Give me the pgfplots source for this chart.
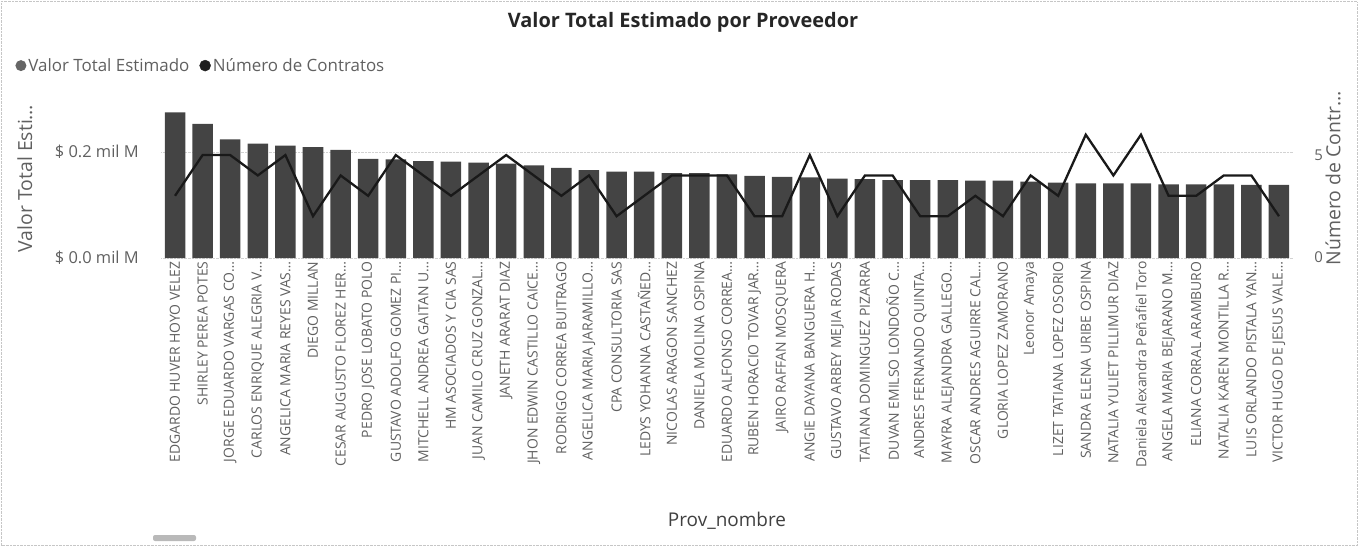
\documentclass[border=0pt]{standalone}
\usepackage{pgfplots}
\pgfplotsset{compat=1.18}
\usepackage{fontspec}
\setmainfont{Open Sans}
\definecolor{barc}{RGB}{68,68,68}
\definecolor{txt}{RGB}{96,96,96}
\pgfplotstableread{
x v n
0 0.275 3
1 0.253 5
2 0.224 5
3 0.216 4
4 0.212 5
5 0.209 2
6 0.204 4
7 0.187 3
8 0.186 5
9 0.183 4
10 0.182 3
11 0.180 4
12 0.178 5
13 0.175 4
14 0.170 3
15 0.166 4
16 0.163 2
17 0.163 3
18 0.160 4
19 0.160 4
20 0.158 4
21 0.155 2
22 0.153 2
23 0.152 5
24 0.150 2
25 0.149 4
26 0.147 4
27 0.147 2
28 0.147 2
29 0.146 3
30 0.146 2
31 0.144 4
32 0.142 3
33 0.141 6
34 0.141 4
35 0.141 6
36 0.139 3
37 0.139 3
38 0.139 4
39 0.138 4
40 0.138 2
}\datatable
\begin{document}
\begin{tikzpicture}[x=1bp,y=1bp]
\path[use as bounding box] (0,0) rectangle (1360,-547);
\draw[gray!45, densely dotted] (1.5,-1.5) rectangle (1357,-545.5);
\node[font=\fontsize{20}{24}\selectfont\bfseries, text=black!85] at (683,-22) {Valor Total Estimado por Proveedor};
\fill[gray!55, rounded corners=2bp] (153,-535) rectangle (196,-541);
\begin{axis}[
  at={(161.2bp,-258bp)}, anchor=south west,
  scale only axis, width=1131.6bp, height=159bp,
  xmin=-0.5, xmax=40.5, ymin=0, ymax=0.3,
  axis line style={draw=none}, tick style={draw=none},
  xtick={0,...,40},
  xticklabels={EDGARDO HUVER HOYO VELEZ,SHIRLEY PEREA POTES,JORGE EDUARDO VARGAS CO…,CARLOS ENRIQUE ALEGRIA V…,ANGELICA MARIA REYES VAS…,DIEGO MILLAN,CESAR AUGUSTO FLOREZ HER…,PEDRO JOSE LOBATO POLO,GUSTAVO ADOLFO GOMEZ PI…,MITCHELL ANDREA GAITAN U…,HM ASOCIADOS Y CIA SAS,JUAN CAMILO CRUZ GONZAL…,JANETH ARARAT DIAZ,JHON EDWIN CASTILLO CAICE…,RODRIGO CORREA BUITRAGO,ANGELICA MARIA JARAMILLO…,CPA CONSULTORIA SAS,LEDYS YOHANNA CASTAÑED…,NICOLAS ARAGON SANCHEZ,DANIELA MOLINA OSPINA,EDUARDO ALFONSO CORREA…,RUBEN HORACIO TOVAR JAR…,JAIRO RAFFAN MOSQUERA,ANGIE DAYANA BANGUERA H…,GUSTAVO ARBEY MEJIA RODAS,TATIANA DOMINGUEZ PIZARRA,DUVAN EMILSO LONDOÑO C…,ANDRES FERNANDO QUINTA…,MAYRA ALEJANDRA GALLEGO…,OSCAR ANDRES AGUIRRE CAL…,GLORIA LOPEZ ZAMORANO,Leonor Amaya,LIZET TATIANA LOPEZ OSORIO,SANDRA ELENA URIBE OSPINA,NATALIA YULIET PILLIMUR DIAZ,Daniela Alexandra Peñafiel Toro,ANGELA MARIA BEJARANO M…,ELIANA CORRAL ARAMBURO,NATALIA KAREN MONTILLA R…,LUIS ORLANDO PISTALA YAN…,VICTOR HUGO DE JESUS VALE…},
  xticklabel style={rotate=90, anchor=east, font=\fontsize{14}{16}\selectfont, text=txt},
  ytick={0,0.2}, yticklabels={\$ 0.0 mil M,\$ 0.2 mil M},
  yticklabel style={font=\fontsize{16.5}{19}\selectfont, text=txt, xshift=-19bp},
  ymajorgrids, grid style={densely dotted, gray!35},
  ylabel={Valor Total Esti…},
  ylabel style={at={(axis description cs:-0.1204,0.5)}, anchor=center, font=\fontsize{19.5}{22}\selectfont, text=txt},
  xlabel={Prov\_nombre},
  xlabel style={at={(axis description cs:0.5,-1.654)}, anchor=center, font=\fontsize{19}{22}\selectfont, text=black!75},
  legend style={at={(axis description cs:-0.129,1.21)}, anchor=west, draw=none, fill=none, legend columns=2, font=\fontsize{17}{20}\selectfont, text=txt, inner sep=0pt, /tikz/every even column/.append style={column sep=8bp}},
]
\addplot[ybar, bar width=20.5bp, fill=barc, draw=none,
  legend image code/.code={\fill[gray!80!black] (0bp,0bp) circle (5.5bp);}]
  table[x=x, y=v] {\datatable};
\addlegendentry{Valor Total Estimado}
\addlegendimage{legend image code/.code={\fill[black!88] (0bp,0bp) circle (5.5bp);}}
\addlegendentry{Número de Contratos}
\end{axis}
\begin{axis}[
  at={(161.2bp,-258bp)}, anchor=south west,
  scale only axis, width=1131.6bp, height=159bp,
  xmin=-0.5, xmax=40.5, ymin=-0.05, ymax=7.75,
  axis x line=none, axis y line*=right,
  axis line style={draw=none}, tick style={draw=none},
  ytick={0,5}, yticklabels={0,5},
  yticklabel style={font=\fontsize{15}{17}\selectfont, text=txt, xshift=18bp},
  ylabel={Número de Contr…},
  ylabel style={at={(axis description cs:1.0355,0.5)}, anchor=center, font=\fontsize{19.5}{22}\selectfont, text=txt},
]
\addplot[black!90, line width=2.3bp, mark=none] table[x=x, y=n] {\datatable};
\end{axis}
\end{tikzpicture}
\end{document}
